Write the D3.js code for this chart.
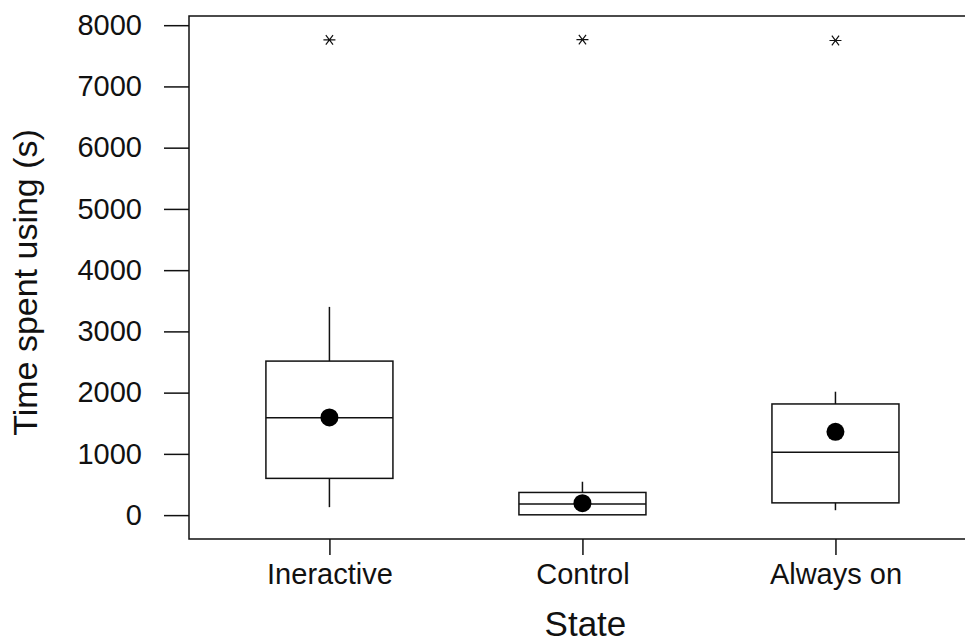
<!DOCTYPE html>
<html>
<head>
<meta charset="utf-8">
<script src="https://cdn.jsdelivr.net/npm/d3@7"></script>
<style>
  html, body { margin: 0; padding: 0; background: #fff; }
  svg { display: block; font-family: "Liberation Sans", Arial, sans-serif; }
</style>
</head>
<body>
<svg id="chart" width="965" height="644"></svg>
<script>
// Box-plot summaries of time spent using, per state
const categories = ["Ineractive", "Control", "Always on"];
const whiskerLow = [130, 5, 80];
const q1 = [600, 5, 200];
const median = [1590, 180, 1025];
const q3 = [2515, 370, 1815];
const whiskerHigh = [3400, 545, 2015];
const means = [1595, 195, 1360];
const outliers = [7760, 7765, 7750];
const yTicks = [0, 1000, 2000, 3000, 4000, 5000, 6000, 7000, 8000];

const svg = d3.select("#chart");
const plotLeft = 189, plotTop = 16, plotBottom = 539, plotRight = 965;

const x = d3.scaleLinear().domain([0.445, 3.512]).range([plotLeft, plotRight]);
const y = d3.scaleLinear().domain([-390, 8150]).range([plotBottom, plotTop]);
const boxHalf = 0.251;

const ink = "#111";
const font = "'Liberation Sans', Arial, sans-serif";

// frame (right side runs past the page edge)
svg.append("path")
  .attr("d", `M${x(3.6)},${plotTop}H${plotLeft}V${plotBottom}H${x(3.6)}`)
  .attr("fill", "none").attr("stroke", ink).attr("stroke-width", 1.5);

// y axis
const yAxis = d3.axisLeft(y).tickValues(yTicks).tickSize(25).tickPadding(22)
  .tickFormat(d3.format("d"));
const gy = svg.append("g").attr("transform", `translate(${plotLeft},0)`).call(yAxis);
gy.select(".domain").remove();
gy.selectAll(".tick line").attr("stroke", ink).attr("stroke-width", 1.5);
gy.selectAll(".tick text").attr("font-size", 29).attr("fill", ink).attr("font-family", font);

// x axis
const xAxis = d3.axisBottom(x).tickValues([1, 2, 3]).tickSize(16).tickPadding(8)
  .tickFormat((d) => categories[d - 1]);
const gx = svg.append("g").attr("transform", `translate(0,${plotBottom})`).call(xAxis);
gx.select(".domain").remove();
gx.selectAll(".tick line").attr("stroke", ink).attr("stroke-width", 1.5);
gx.selectAll(".tick text").attr("font-size", 29).attr("fill", ink).attr("font-family", font);

// axis titles
svg.append("text")
  .attr("x", x(2) + 3).attr("y", 636)
  .attr("text-anchor", "middle").attr("font-size", 35).attr("fill", ink)
  .attr("font-family", font)
  .text("State");
svg.append("text")
  .attr("transform", `translate(37,${(plotTop + plotBottom) / 2 + 5}) rotate(-90)`)
  .attr("text-anchor", "middle").attr("font-size", 34).attr("fill", ink)
  .attr("font-family", font)
  .text("Time spent using (s)");

// boxes
const groups = svg.append("g").selectAll("g")
  .data(categories.map((c, i) => ({ c, i, pos: i + 1 })))
  .join("g");

groups.append("line")
  .attr("x1", (d) => x(d.pos)).attr("x2", (d) => x(d.pos))
  .attr("y1", (d) => y(q3[d.i])).attr("y2", (d) => y(whiskerHigh[d.i]))
  .attr("stroke", ink).attr("stroke-width", 1.5);
groups.append("line")
  .attr("x1", (d) => x(d.pos)).attr("x2", (d) => x(d.pos))
  .attr("y1", (d) => y(q1[d.i])).attr("y2", (d) => y(whiskerLow[d.i]))
  .attr("stroke", ink).attr("stroke-width", 1.5);
groups.append("rect")
  .attr("x", (d) => x(d.pos - boxHalf))
  .attr("width", (d) => x(d.pos + boxHalf) - x(d.pos - boxHalf))
  .attr("y", (d) => y(q3[d.i]))
  .attr("height", (d) => y(q1[d.i]) - y(q3[d.i]))
  .attr("fill", "none").attr("stroke", ink).attr("stroke-width", 1.5);
groups.append("line")
  .attr("x1", (d) => x(d.pos - boxHalf)).attr("x2", (d) => x(d.pos + boxHalf))
  .attr("y1", (d) => y(median[d.i])).attr("y2", (d) => y(median[d.i]))
  .attr("stroke", ink).attr("stroke-width", 1.5);

// means
groups.append("circle")
  .attr("cx", (d) => x(d.pos)).attr("cy", (d) => y(means[d.i]))
  .attr("r", 9).attr("fill", "#000");

// outliers drawn as asterisks
const s = 6;
groups.append("path")
  .attr("transform", (d) => `translate(${x(d.pos)},${y(outliers[d.i])})`)
  .attr("d", `M${-s},0H${s}M${-s * 0.6},${-s * 0.8}L${s * 0.6},${s * 0.8}M${-s * 0.6},${s * 0.8}L${s * 0.6},${-s * 0.8}`)
  .attr("fill", "none").attr("stroke", ink).attr("stroke-width", 1.2);
</script>
</body>
</html>
